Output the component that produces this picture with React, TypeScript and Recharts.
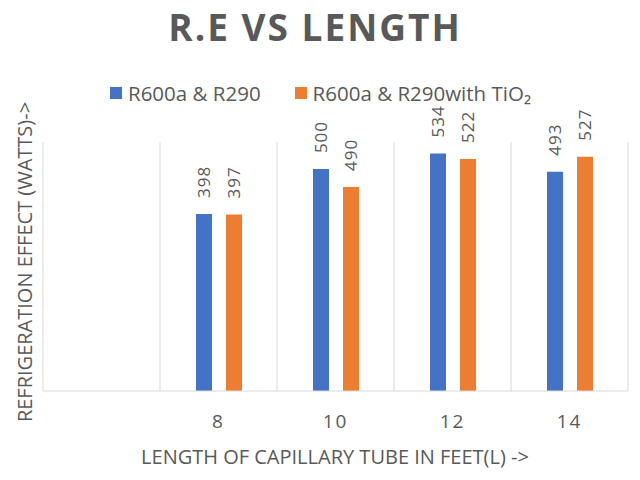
import React from "react";
import { BarChart, Bar, XAxis, YAxis, CartesianGrid, LabelList } from "recharts";

const lengths = ["", "8", "10", "12", "14"];
// bar heights as drawn in the picture
const plainValues = [null, 398, 499, 534, 493];
const tio2Values = [null, 397, 459, 522, 527];
// numbers printed above the bars
const plainLabels = ["", "398", "500", "534", "493"];
const tio2Labels = ["", "397", "490", "522", "527"];
const seriesNames = ["R600a & R290", "R600a & R290with TiO\u2082"];

const BLUE = "#4472C4";
const ORANGE = "#ED7D31";
const TEXT = "#595959";
const GRID = "#d9d9d9";
const FONT = "'Open Sans', 'Noto Sans', sans-serif";

const data = lengths.map((len, i) => ({
  len,
  plain: plainValues[i],
  tio2: tio2Values[i],
  plainLabel: plainLabels[i],
  tio2Label: tio2Labels[i],
}));

function ValueLabel(props: any) {
  const { x, y, width, value } = props;
  if (!value) return null;
  const cx = x + width / 2;
  const cy = y - 16;
  return (
    <text
      x={cx}
      y={cy}
      transform={`rotate(-90, ${cx}, ${cy})`}
      textAnchor="start"
      dominantBaseline="central"
      fill={TEXT}
      fontSize={17}
      letterSpacing={1}
      fontFamily={FONT}
    >
      {value}
    </text>
  );
}

export default function App() {
  return (
    <div style={{ position: "absolute", left: 0, top: 0, width: 640, height: 480, background: "#fff", fontFamily: FONT }}>
      {/* title */}
      <div
        style={{
          position: "absolute", left: 0, width: 630, top: 2, textAlign: "center", lineHeight: "50px",
          fontSize: 37, fontWeight: 700, letterSpacing: 2, color: TEXT,
        }}
      >
        R.E VS LENGTH
      </div>

      {/* legend */}
      <div style={{ position: "absolute", left: 110, top: 79, display: "flex", alignItems: "center", fontSize: 20.5, lineHeight: "28px", color: TEXT }}>
        <span style={{ width: 12, height: 12, background: BLUE, marginRight: 6 }} />
        <span>{seriesNames[0]}</span>
        <span style={{ width: 12, height: 12, background: ORANGE, marginLeft: 34, marginRight: 6 }} />
        <span>{seriesNames[1]}</span>
      </div>

      {/* y axis title */}
      <div
        style={{
          position: "absolute", left: 25, top: 262, transform: "translate(-50%, -50%) rotate(-90deg)",
          whiteSpace: "nowrap", fontSize: 20, lineHeight: "24px", color: TEXT,
        }}
      >
        REFRIGERATION EFFECT (WATTS)-&gt;
      </div>

      {/* x axis title */}
      <div style={{ position: "absolute", left: 335 - 300, width: 600, top: 444, textAlign: "center", fontSize: 20, lineHeight: "26px", color: TEXT }}>
        LENGTH OF CAPILLARY TUBE IN FEET(L) -&gt;
      </div>

      <BarChart
        width={640}
        height={480}
        data={data}
        margin={{ top: 142, right: 12, bottom: 59, left: 43 }}
        barGap={14}
        barSize={16}
        style={{ position: "absolute", left: 0, top: 0 }}
      >
        <CartesianGrid
          horizontal={false}
          stroke={GRID}
          verticalCoordinatesGenerator={({ offset }: any) =>
            lengths.concat([""]).map((_, i) => offset.left + (i * offset.width) / lengths.length)
          }
        />
        <XAxis
          dataKey="len"
          height={30}
          tickLine={false}
          axisLine={{ stroke: GRID }}
          tick={{ fill: TEXT, fontSize: 19, letterSpacing: 2, fontFamily: FONT }}
          tickMargin={18}
        />
        <YAxis hide domain={[0, 560]} />
        <Bar dataKey="plain" name={seriesNames[0]} fill={BLUE} isAnimationActive={false}>
          <LabelList dataKey="plainLabel" content={ValueLabel} />
        </Bar>
        <Bar dataKey="tio2" name={seriesNames[1]} fill={ORANGE} isAnimationActive={false}>
          <LabelList dataKey="tio2Label" content={ValueLabel} />
        </Bar>
      </BarChart>
    </div>
  );
}
